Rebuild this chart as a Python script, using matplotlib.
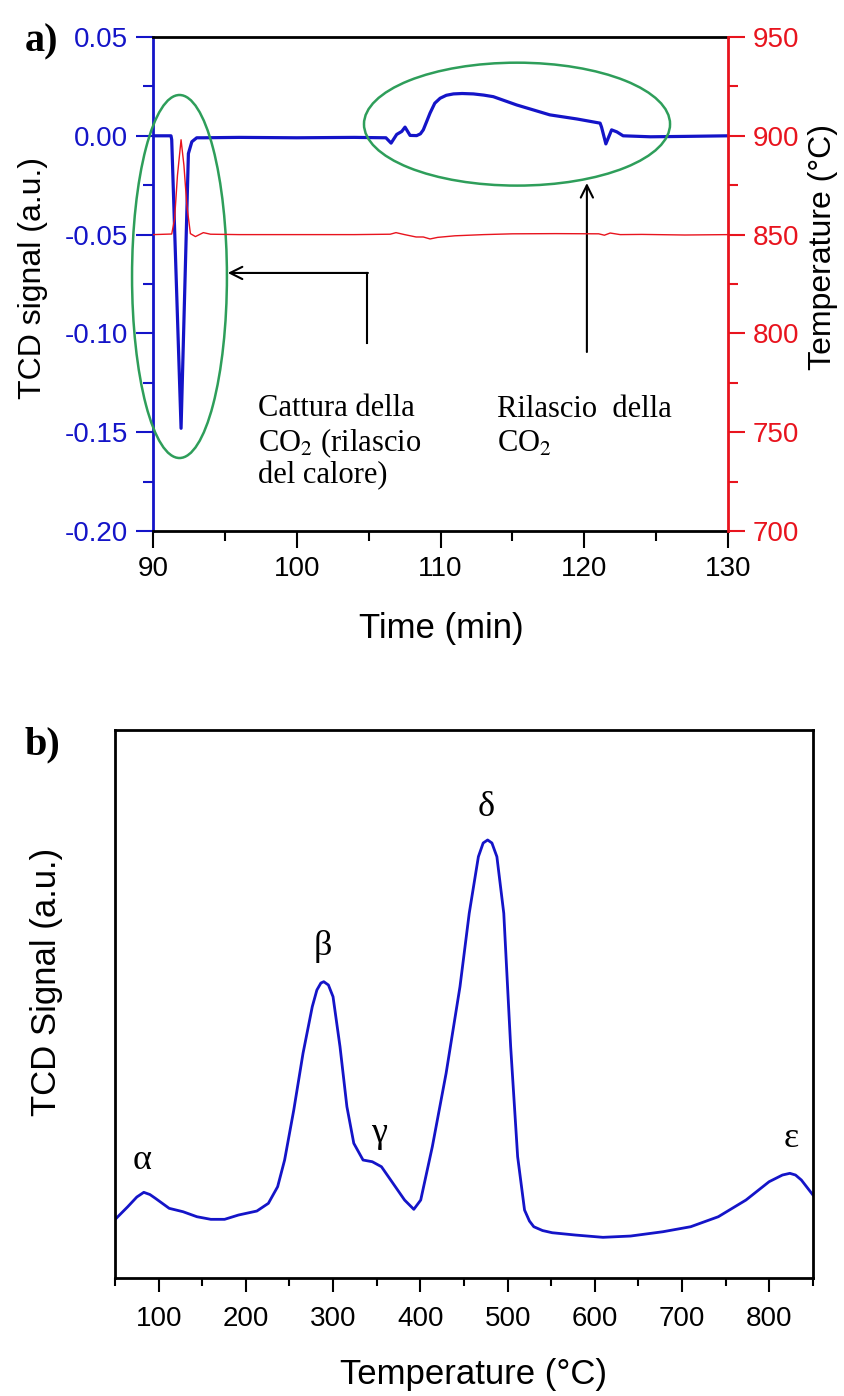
import numpy as np
import matplotlib.pyplot as plt
from matplotlib.patches import Ellipse
from matplotlib.ticker import MultipleLocator

plt.rcParams['font.family'] = ['Liberation Sans', 'DejaVu Sans']
plt.rcParams['mathtext.fontset'] = 'stix'

# Panel a) - TCD signal vs time
time_tcd = [90, 91.25, 91.3, 91.95, 92.46, 92.7, 93.04, 93.5, 96, 100, 104, 106.2, 106.56,
            106.95, 107.3, 107.53, 107.88, 108.34, 108.6, 108.8, 109.05, 109.27, 109.6,
            109.97, 110.4, 110.9, 111.5, 112.28, 113.0, 113.67, 115.3, 117.6, 119.5,
            121.1, 121.2, 121.5, 121.9, 122.26, 122.7, 124.6, 127, 130]
tcd_signal = [0, 0, -0.002, -0.148, -0.009, -0.003, -0.001, -0.001, -0.0008, -0.001,
              -0.0008, -0.001, -0.0037, 0.0007, 0.0022, 0.0044, 0.0002, 0.0001, 0.001,
              0.003, 0.0075, 0.0115, 0.0165, 0.019, 0.0205, 0.0212, 0.0214, 0.0212,
              0.0206, 0.0198, 0.0156, 0.0106, 0.0085, 0.0064, 0.0044, -0.0041, 0.003,
              0.002, 0.0, -0.0005, -0.0003, 0.0]

# Panel a) - temperature vs time
time_temp = [90, 91.3, 91.5, 91.7, 91.95, 92.15, 92.35, 92.6, 92.95, 93.5, 94, 96, 100,
             104, 106.5, 106.9, 107.5, 108.3, 108.8, 109.27, 109.8, 111, 113, 115, 118,
             121, 121.4, 121.8, 122.5, 124, 127, 130]
temperature = [850, 850.3, 858, 880, 898, 885, 865, 850.5, 849, 851, 850.2, 850, 850,
               850, 850.2, 851, 850, 848.8, 848.8, 847.8, 848.6, 849.4, 850, 850.4,
               850.5, 850.4, 849.7, 850.8, 850, 850.1, 849.8, 850]

# Panel b) - TPD profile
tpd_temp = [51.4, 64.6, 75, 83, 90, 96.3, 112.1, 128, 143.9, 159.8, 175.6, 191.5, 212.6,
            225.8, 236.4, 244.4, 254.9, 265.5, 276.1, 281.4, 286, 289.3, 294.6, 299.9,
            307.9, 315.8, 323.7, 334.3, 344.9, 355.4, 366, 381.9, 392.5, 400.4, 413.7,
            429.5, 445.4, 456, 466.5, 472, 477.1, 482, 487.7, 495.6, 503.5, 511.5, 519.4,
            525, 530, 540, 551.1, 577.6, 609.3, 641, 678, 709.8, 741.5, 773.2, 799.7,
            815, 823.5, 830, 836.7, 850]
tpd_signal = [0.597, 0.713, 0.81, 0.857, 0.835, 0.797, 0.697, 0.663, 0.613, 0.587, 0.587,
              0.63, 0.67, 0.747, 0.913, 1.18, 1.68, 2.247, 2.713, 2.88, 2.95, 2.963, 2.93,
              2.813, 2.313, 1.713, 1.347, 1.18, 1.163, 1.113, 0.98, 0.78, 0.687, 0.78,
              1.313, 2.047, 2.913, 3.647, 4.213, 4.35, 4.38, 4.35, 4.213, 3.647, 2.313,
              1.213, 0.68, 0.57, 0.513, 0.475, 0.453, 0.43, 0.407, 0.42, 0.463, 0.513,
              0.613, 0.78, 0.963, 1.03, 1.047, 1.03, 0.98, 0.83]
peak_labels = ['α', 'β', 'γ', 'δ', 'ε']
peak_x = [81.6, 288.3, 352.5, 475.8, 824.5]
peak_y = [1.18, 3.31, 1.45, 4.70, 1.40]

blue = '#1414c8'
red = '#e8141e'
green = '#2e9e5a'
serif = ['Liberation Serif', 'DejaVu Serif']

fig = plt.figure(figsize=(8.45, 13.96), dpi=100)

# ---------- panel a ----------
ax1 = fig.add_axes([0.1811, 0.6196, 0.6805, 0.3539])
ax1.plot(time_tcd, tcd_signal, color=blue, lw=2.3, zorder=3)
ax1.set_xlim(90, 130)
ax1.set_ylim(-0.20, 0.05)
ax1.set_yticks([-0.20, -0.15, -0.10, -0.05, 0.00, 0.05])
ax1.set_yticklabels(['-0.20', '-0.15', '-0.10', '-0.05', '0.00', '0.05'])
ax1.xaxis.set_major_locator(MultipleLocator(10))
ax1.xaxis.set_minor_locator(MultipleLocator(5))
ax1.yaxis.set_minor_locator(MultipleLocator(0.025))
ax1.tick_params(which='both', direction='out', width=1.5, labelsize=20)
ax1.tick_params(which='major', length=12, pad=6)
ax1.tick_params(which='minor', length=7)
ax1.tick_params(axis='y', colors=blue, which='both')
ax1.tick_params(axis='x', colors='black')
ax1.spines['left'].set_color(blue)
for s in ax1.spines.values():
    s.set_linewidth(2)
ax1.spines['right'].set_visible(False)
ax1.set_xlabel('Time (min)', fontsize=25)
ax1.set_ylabel('TCD signal (a.u.)', fontsize=23)
ax1.xaxis.set_label_coords(0.501, -0.164)
ax1.yaxis.set_label_coords(-0.183, 0.512)

ax2 = ax1.twinx()
ax2.plot(time_temp, temperature, color=red, lw=1.0, zorder=2)
ax2.set_ylim(700, 950)
ax2.yaxis.set_major_locator(MultipleLocator(50))
ax2.yaxis.set_minor_locator(MultipleLocator(25))
ax2.tick_params(which='both', direction='out', width=1.5, labelsize=20, colors=red)
ax2.tick_params(which='major', length=12, pad=6)
ax2.tick_params(which='minor', length=7)
for name, s in ax2.spines.items():
    s.set_visible(name == 'right')
ax2.spines['right'].set_color(red)
ax2.spines['right'].set_linewidth(2)
ax2.set_ylabel('Temperature (°C)', fontsize=23)
ax2.yaxis.set_label_coords(1.139, 0.575)

# highlight ellipses
ax1.add_patch(Ellipse((91.84, -0.0712), 6.6, 0.1837, fill=False, ec=green, lw=1.8,
                      clip_on=False, zorder=4))
ax1.add_patch(Ellipse((115.32, 0.0059), 21.29, 0.0622, fill=False, ec=green, lw=1.8,
                      clip_on=False, zorder=4))

# arrows
ax1.plot([104.9, 104.9], [-0.1048, -0.0694], color='black', lw=1.5)
ax1.annotate('', xy=(95.2, -0.0694), xytext=(104.95, -0.0694),
             arrowprops=dict(arrowstyle='->', lw=1.5, color='black', mutation_scale=22,
                             shrinkA=0, shrinkB=0))
ax1.annotate('', xy=(120.18, -0.0239), xytext=(120.18, -0.1094),
             arrowprops=dict(arrowstyle='->', lw=1.5, color='black', mutation_scale=22,
                             shrinkA=0, shrinkB=0))

ax1.text(97.3, -0.1382, 'Cattura della', family=serif, fontsize=22, va='center')
ax1.text(97.3, -0.1554, r'CO$_2$ (rilascio', family=serif, fontsize=22, va='center')
ax1.text(97.3, -0.1721, 'del calore)', family=serif, fontsize=22, va='center')
ax1.text(113.93, -0.1387, 'Rilascio  della', family=serif, fontsize=22, va='center')
ax1.text(113.93, -0.1559, r'CO$_2$', family=serif, fontsize=22, va='center')

fig.text(42 / 845, 1 - 42 / 1396, 'a)', family=serif, fontsize=29, fontweight='bold',
         ha='center', va='center')

# ---------- panel b ----------
ax3 = fig.add_axes([0.1361, 0.0845, 0.8260, 0.3926])
ax3.plot(tpd_temp, tpd_signal, color=blue, lw=2)
ax3.set_xlim(50, 850)
ax3.set_ylim(0, 5.48)
ax3.xaxis.set_minor_locator(MultipleLocator(50))
ax3.set_xticks([100, 200, 300, 400, 500, 600, 700, 800])
ax3.set_yticks([])
ax3.tick_params(axis='x', which='both', direction='out', width=1.5, labelsize=20)
ax3.tick_params(axis='x', which='major', length=10, pad=10)
ax3.tick_params(axis='x', which='minor', length=6)
for s in ax3.spines.values():
    s.set_linewidth(2)
ax3.set_xlabel('Temperature (°C)', fontsize=25)
ax3.set_ylabel('TCD Signal (a.u.)', fontsize=25)
ax3.xaxis.set_label_coords(0.514, -0.146)
ax3.yaxis.set_label_coords(-0.0745, 0.54)

for lab, x, y in zip(peak_labels, peak_x, peak_y):
    ax3.text(x, y, lab, family=serif, fontsize=26, ha='center', va='center')

fig.text(42 / 845, 1 - 745 / 1396, 'b)', family=serif, fontsize=29, fontweight='bold',
         ha='center', va='center')

fig.savefig('out.png', dpi=100)
